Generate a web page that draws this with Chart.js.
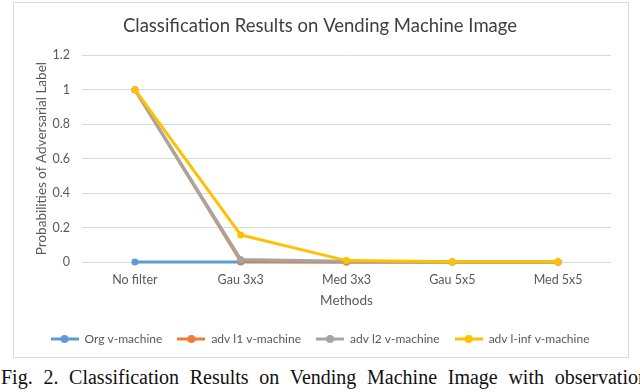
<!DOCTYPE html>
<html>
<head>
<meta charset="utf-8">
<script src="https://cdn.jsdelivr.net/npm/chart.js@4"></script>
<style>
html,body{margin:0;padding:0;background:#fff;width:640px;height:392px;overflow:hidden}
#box{position:absolute;left:13px;top:2px;width:616px;height:356px;border:1px solid #d9d9d9;box-sizing:border-box}
#cap{position:absolute;left:1px;top:366px;font-family:'Liberation Serif',serif;font-size:20px;white-space:nowrap;color:#111;word-spacing:5.7px}
</style>
</head>
<body>
<div id="box"><canvas id="c"></canvas></div>
<div id="cap">Fig. 2. Classification Results on Vending Machine Image with observation</div>
<script>
// ===== DATA =====
const methods=['No filter','Gau 3x3','Med 3x3','Gau 5x5','Med 5x5'];
const orgV=[0,0,0,0,0];
const advL1=[1,0.004,0,0,0];
const advL2=[1,0.015,0.004,0,0];
const advLinf=[1,0.157,0.008,0.001,0.001];
const yTicks=[0,0.2,0.4,0.6,0.8,1,1.2];

const BLUE='#5B9BD5',ORANGE='#ED7D31',GREY='#A5A5A5',GOLD='#FFC000',TXT='#595959';
const FONT="Lato,'Open Sans',sans-serif";

// legend swatch: line with a dot through it, like the office-style legend
function swatch(col){
  const c=document.createElement('canvas');c.width=28;c.height=10;
  const x=c.getContext('2d');
  x.strokeStyle=col;x.lineWidth=3;x.beginPath();x.moveTo(0,5);x.lineTo(28,5);x.stroke();
  x.fillStyle=col;x.beginPath();x.arc(14,5,4,0,Math.PI*2);x.fill();
  return c;
}

function ds(label,data,col,order){
  return {label,data,borderColor:col,backgroundColor:col,borderWidth:3,pointRadius:3.5,pointHoverRadius:3.5,
    pointBackgroundColor:col,pointBorderWidth:0,tension:0,order,clip:false,pointStyle:'circle'};
}

const swatches=[swatch(BLUE),swatch(ORANGE),swatch(GREY),swatch(GOLD)];

new Chart(document.getElementById('c'),{type:'line',
  data:{labels:methods,datasets:[
    ds('Org v-machine',orgV,BLUE,4),
    ds('adv l1 v-machine',advL1,ORANGE,3),
    ds('adv l2 v-machine',advL2,GREY,2),
    ds('adv l-inf v-machine',advLinf,GOLD,1)
  ]},
  options:{responsive:true,maintainAspectRatio:false,animation:false,
    layout:{padding:{left:15,right:17,top:4,bottom:2}},
    plugins:{
      title:{display:true,text:'Classification Results on Vending Machine Image',color:'#404040',
        font:{family:FONT,size:18.5,weight:'normal'},padding:{top:8,bottom:18}},
      legend:{position:'bottom',labels:{color:TXT,font:{family:FONT,size:12},usePointStyle:true,pointStyleWidth:28,boxWidth:28,boxHeight:10,padding:15,
        generateLabels:ch=>ch.data.datasets.map((d,i)=>({text:d.label,pointStyle:swatches[i],datasetIndex:i,fontColor:TXT,lineWidth:0,strokeStyle:'transparent',fillStyle:'transparent'}))}},
      tooltip:{enabled:false}
    },
    scales:{
      x:{offset:true,grid:{display:false,drawTicks:false},border:{display:false},ticks:{color:TXT,font:{family:FONT,size:12.5},padding:10},
        afterFit:s=>{s.height=56;},
        title:{display:true,text:'Methods',color:TXT,font:{family:FONT,size:13.5},padding:{top:0,bottom:9}}},
      y:{min:0,max:1.2,grid:{color:'#d9d9d9',drawTicks:false},border:{display:false},
        afterBuildTicks:s=>{s.ticks=yTicks.map(v=>({value:v}));},
        afterFit:s=>{s.width=53;},
        ticks:{color:TXT,font:{family:FONT,size:12.5},padding:12,callback:v=>String(Math.round(v*10)/10)},
        title:{display:true,text:'Probabilities of Adversarial Label',color:TXT,font:{family:FONT,size:13.5},padding:{top:5,bottom:0}}}
    }
  }
});
</script>
</body>
</html>
